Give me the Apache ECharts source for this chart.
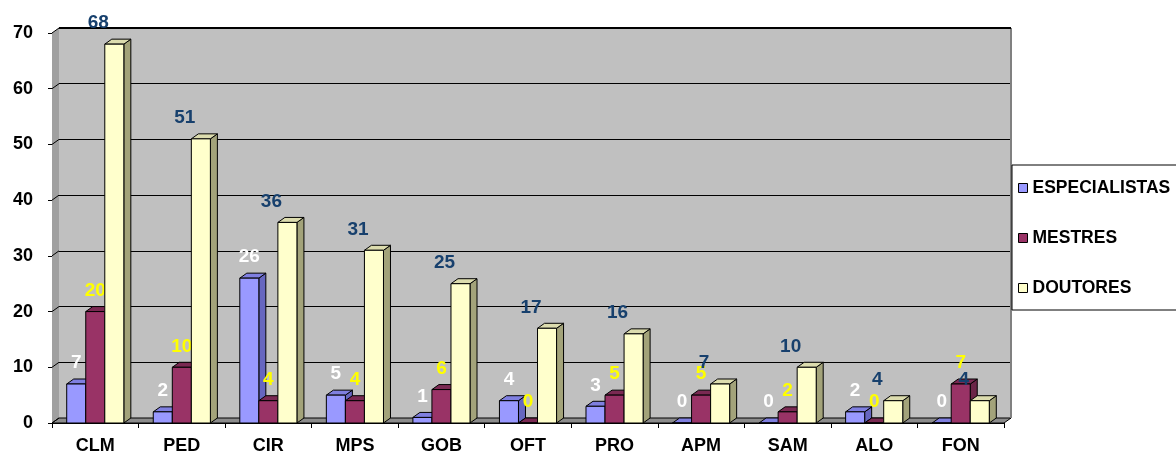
<!DOCTYPE html>
<html><head><meta charset="utf-8">
<script src="https://cdn.jsdelivr.net/npm/echarts@6/dist/echarts.min.js"></script>
<style>html,body{margin:0;padding:0;background:#fff}#c{width:1176px;height:455px}</style>
</head><body><div id="c"></div>
<script>
const categories = ['CLM','PED','CIR','MPS','GOB','OFT','PRO','APM','SAM','ALO','FON'];
const especialistas = [7,2,26,5,1,4,3,0,0,2,0];
const mestres = [20,10,4,4,6,0,5,5,2,0,7];
const doutores = [68,51,36,31,25,17,16,7,10,4,4];
const yTicks = [0,10,20,30,40,50,60,70];
const seriesNames = ['ESPECIALISTAS','MESTRES','DOUTORES'];

const DX = 7, DY = 5;
const FONT = 'bold 19px "Liberation Sans", Arial, sans-serif';

function barRenderer(k, front, top, side, labelColor, labelShift) {
  return function (params, api) {
    const i = api.value(0), v = api.value(1);
    const base = api.coord([i, 0]);
    const tp = api.coord([i, v]);
    const band = api.size([1, 0])[0];
    const bw = band * 0.22;
    const cx = base[0] + k * bw;
    const x = cx - bw / 2, y1 = tp[1], y0 = base[1];
    const ls = {stroke: '#000', lineWidth: 1};
    return {
      type: 'group',
      children: [
        {type: 'polygon', shape: {points: [[x + bw, y1], [x + bw + DX, y1 - DY], [x + bw + DX, y0 - DY], [x + bw, y0]]},
          style: Object.assign({fill: side}, ls)},
        {type: 'polygon', shape: {points: [[x, y1], [x + DX, y1 - DY], [x + bw + DX, y1 - DY], [x + bw, y1]]},
          style: Object.assign({fill: top}, ls)},
        {type: 'rect', shape: {x: x, y: y1, width: bw, height: y0 - y1},
          style: Object.assign({fill: front}, ls)},
        {type: 'text', z2: 10, style: {text: String(v), x: cx + labelShift, y: y1 - 21,
          fill: labelColor, font: FONT, align: 'center', verticalAlign: 'middle'}}
      ]
    };
  };
}

function frameRenderer(params, api) {
  const v = api.value(1);
  const cs = params.coordSys;
  const p = api.coord([0, v]);
  const x0 = cs.x, y = p[1];
  const children = [];
  if (params.dataIndex === 0) {
    const top = cs.y, bot = cs.y + cs.height, right = cs.x + cs.width;
    children.push({type: 'polygon', shape: {points: [[x0, top], [x0 + DX, top - DY], [x0 + DX, bot - DY], [x0, bot]]},
      style: {fill: '#a0a0a0', stroke: null}});
    children.push({type: 'polygon', shape: {points: [[x0, bot], [x0 + DX, bot - DY], [right + DX, bot - DY], [right, bot]]},
      style: {fill: '#8c8c8c', stroke: '#000', lineWidth: 1}});
    children.push({type: 'line', shape: {x1: right + DX, y1: top - DY, x2: right + DX, y2: bot - DY},
      style: {stroke: '#808080', lineWidth: 2}});
    children.push({type: 'line', shape: {x1: x0 + DX, y1: top - DY, x2: right + DX, y2: top - DY},
      style: {stroke: '#000', lineWidth: 2}});
  }
  children.push({type: 'line', shape: {x1: x0, y1: y, x2: x0 + DX, y2: y - DY}, style: {stroke: '#000', lineWidth: 1}});
  return {type: 'group', children: children};
}

const chart = echarts.init(document.getElementById('c'), null, {renderer: 'canvas'});
const axisFont = {fontFamily: '"Liberation Sans", Arial, sans-serif', fontWeight: 'bold', fontSize: 18, color: '#000'};

chart.setOption({
  animation: false,
  backgroundColor: '#fff',
  grid: [
    {left: 52, right: 172, top: 33, bottom: 32},
    {left: 59, right: 165, top: 28, bottom: 37, show: true, backgroundColor: '#c0c0c0', borderWidth: 0}
  ],
  xAxis: [
    {type: 'category', gridIndex: 0, data: categories,
      axisLine: {lineStyle: {color: '#000', width: 1}},
      axisTick: {show: true, length: 5, lineStyle: {color: '#000'}},
      axisLabel: Object.assign({margin: 14}, axisFont)},
    {type: 'category', gridIndex: 1, data: categories, show: false}
  ],
  yAxis: [
    {type: 'value', gridIndex: 0, min: 0, max: 70, interval: 10,
      axisLine: {show: true, lineStyle: {color: '#000'}},
      axisTick: {show: true, length: 4, lineStyle: {color: '#000'}},
      splitLine: {show: false},
      axisLabel: Object.assign({margin: 19}, axisFont)},
    {type: 'value', gridIndex: 1, min: 0, max: 70, interval: 10,
      axisLine: {show: false}, axisTick: {show: false}, axisLabel: {show: false},
      splitLine: {show: true, lineStyle: {color: '#000', width: 1}}}
  ],
  legend: {
    orient: 'vertical', left: 1012, top: 165,
    data: seriesNames, icon: 'rect', itemWidth: 9, itemHeight: 9, itemGap: 32,
    backgroundColor: '#fff', borderColor: '#000', borderWidth: 1,
    padding: [14, 40, 13, 6],
    itemStyle: {borderColor: '#000', borderWidth: 1},
    textStyle: {fontFamily: '"Liberation Sans", Arial, sans-serif', fontWeight: 'bold', fontSize: 17.5, color: '#000'}
  },
  series: [
    {type: 'custom', name: 'frame', xAxisIndex: 0, yAxisIndex: 0, z: 1, silent: true,
      data: yTicks.map(t => [0, t]), encode: {x: 0, y: 1}, renderItem: frameRenderer},
    {type: 'custom', name: seriesNames[0], xAxisIndex: 0, yAxisIndex: 0, z: 3,
      itemStyle: {color: '#9999ff'},
      data: especialistas.map((v, i) => [i, v]), encode: {x: 0, y: 1},
      renderItem: barRenderer(-1, '#9999ff', '#7f7fe0', '#6666c0', '#ffffff', 0)},
    {type: 'custom', name: seriesNames[1], xAxisIndex: 0, yAxisIndex: 0, z: 4,
      itemStyle: {color: '#993366'},
      data: mestres.map((v, i) => [i, v]), encode: {x: 0, y: 1},
      renderItem: barRenderer(0, '#993366', '#7a2952', '#6b2447', '#ffff00', 0)},
    {type: 'custom', name: seriesNames[2], xAxisIndex: 0, yAxisIndex: 0, z: 5,
      itemStyle: {color: '#ffffcc'},
      data: doutores.map((v, i) => [i, v]), encode: {x: 0, y: 1},
      renderItem: barRenderer(1, '#ffffcc', '#dcdcae', '#a3a37a', '#17406d', -16)}
  ]
});
</script></body></html>
